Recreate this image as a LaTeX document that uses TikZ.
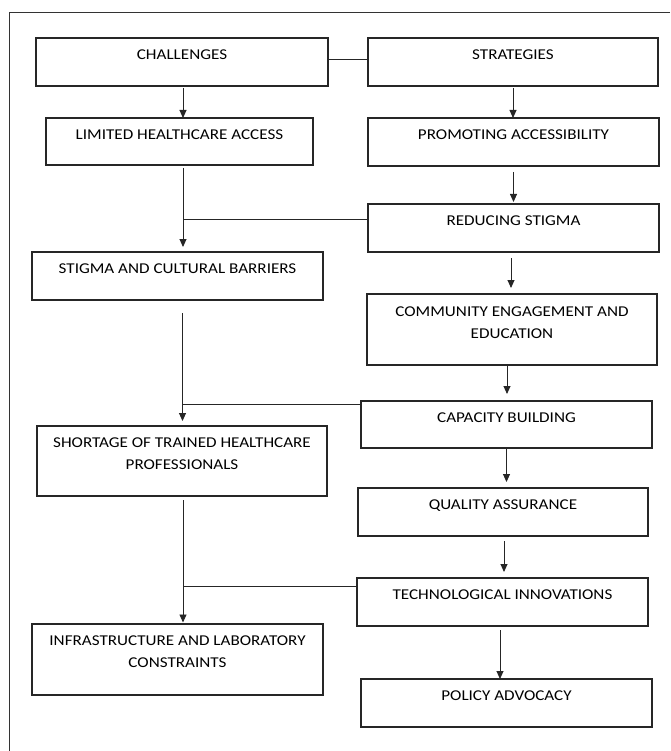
\documentclass[tikz,border=0pt]{standalone}
\usepackage{fontspec}
\setmainfont{Carlito}[FakeStretch=1.14]
\usetikzlibrary{arrows.meta}
\newcommand\twoline[2]{\parbox[t]{285pt}{\centering #1\\#2}}
\begin{document}
\begin{tikzpicture}[x=1pt,y=-1pt,
  bx/.style={draw=black!85, line width=1.3pt, inner sep=0pt, outer sep=0pt, anchor=north west},
  txt/.style={anchor=base, inner sep=0pt, font=\fontsize{15}{21.7}\selectfont, text=black},
  ln/.style={draw=black!85, line width=0.9pt},
  arr/.style={ln, -{Triangle[length=8pt,width=7pt]}},
  frame/.style={draw=black!80, line width=1.5pt}]
\useasboundingbox (0,0) rectangle (670,751);
% outer frame (top and left edges visible)
\draw[frame] (670,12.7) -- (9.3,12.7) -- (9.3,751);

% boxes
\node[bx, minimum width=292pt, minimum height=48pt] (chal)  at (36,38)  {};
\node[bx, minimum width=290pt, minimum height=48pt] (strat) at (368,38) {};
\node[bx, minimum width=267pt, minimum height=47pt] (lim)   at (46,118) {};
\node[bx, minimum width=291pt, minimum height=48pt] (prom)  at (368,118) {};
\node[bx, minimum width=291pt, minimum height=48pt] (red)   at (368,204) {};
\node[bx, minimum width=291pt, minimum height=48pt] (stig)  at (32,252) {};
\node[bx, minimum width=290pt, minimum height=71pt] (comm)  at (367,294) {};
\node[bx, minimum width=291pt, minimum height=47pt] (cap)   at (361,401) {};
\node[bx, minimum width=290pt, minimum height=70pt] (short) at (37,426) {};
\node[bx, minimum width=290pt, minimum height=48pt] (qual)  at (358,488) {};
\node[bx, minimum width=291pt, minimum height=48pt] (tech)  at (357,578) {};
\node[bx, minimum width=291pt, minimum height=71pt] (infra) at (32,624) {};
\node[bx, minimum width=291pt, minimum height=48pt] (pol)   at (361,679) {};

% texts
\node[txt] (tchal)  at ([yshift=-21.5pt]chal.north)  {CHALLENGES};
\node[txt] (tstrat) at ([yshift=-21.5pt]strat.north) {STRATEGIES};
\node[txt] (tlim)   at ([yshift=-21.5pt]lim.north)   {LIMITED HEALTHCARE ACCESS};
\node[txt] (tprom)  at ([yshift=-21.5pt]prom.north)  {PROMOTING ACCESSIBILITY};
\node[txt] (tred)   at ([yshift=-21.5pt]red.north)   {REDUCING STIGMA};
\node[txt] (tstig)  at ([yshift=-21.5pt]stig.north)  {STIGMA AND CULTURAL BARRIERS};
\node[txt] (tcomm)  at ([yshift=-22.5pt]comm.north)  {\twoline{COMMUNITY ENGAGEMENT AND}{EDUCATION}};
\node[txt] (tcap)   at ([yshift=-21.5pt]cap.north)   {CAPACITY BUILDING};
\node[txt] (tshort) at ([yshift=-21.5pt]short.north) {\twoline{SHORTAGE OF TRAINED HEALTHCARE}{PROFESSIONALS}};
\node[txt] (tqual)  at ([yshift=-21.5pt]qual.north)  {QUALITY ASSURANCE};
\node[txt] (ttech)  at ([yshift=-21.5pt]tech.north)  {TECHNOLOGICAL INNOVATIONS};
\node[txt] (tinfra) at ([yshift=-21.5pt]infra.north) {\twoline{INFRASTRUCTURE AND LABORATORY}{CONSTRAINTS}};
\node[txt] (tpol)   at ([yshift=-21.5pt]pol.north)   {POLICY ADVOCACY};

% header link
\draw[ln] ([yshift=-21pt]chal.north east) -- ([yshift=-21pt]strat.north west);

% right column arrows
\coordinate (s2) at ([yshift=-2pt]strat.south);
\draw[arr] (s2) -- (s2 |- prom.north);
\coordinate (s3) at ([yshift=-6pt]prom.south);
\draw[arr] (s3) -- ([yshift=2pt]s3 |- red.north);
\coordinate (s4) at ([xshift=-2.5pt,yshift=-6pt]red.south);
\draw[arr] (s4) -- ([yshift=6pt]s4 |- comm.north);
\coordinate (s5) at ([xshift=-5pt]comm.south);
\draw[arr] (s5) -- ([yshift=7pt]s5 |- cap.north);
\coordinate (s6) at (cap.south);
\draw[arr] (s6) -- ([yshift=6pt]s6 |- qual.north);
\coordinate (s7) at ([xshift=1pt,yshift=-5pt]qual.south);
\draw[arr] (s7) -- ([yshift=6pt]s7 |- tech.north);
\coordinate (s8) at ([xshift=-2.5pt,yshift=-4pt]tech.south);
\draw[arr] (s8) -- (s8 |- pol.north);

% left column arrows
\coordinate (c1) at ([xshift=1pt,yshift=-2pt]chal.south);
\draw[arr] (c1) -- (c1 |- lim.north);
\coordinate (c2) at ([xshift=3.5pt,yshift=-3pt]lim.south);
\draw[arr] (c2) -- ([yshift=5pt]c2 |- stig.north);
\coordinate (c3) at ([xshift=5pt,yshift=-13pt]stig.south);
\draw[arr] (c3) -- ([yshift=5pt]c3 |- short.north);
\coordinate (c4) at ([xshift=1pt,yshift=-4pt]short.south);
\draw[arr] (c4) -- ([yshift=1.5pt]c4 |- infra.north);

% cross links from strategies to the challenge flow
\coordinate (j1) at ([yshift=-15pt]red.north west);
\draw[ln] (j1) -- (j1 -| c2);
\coordinate (j2) at ([yshift=-3.5pt]cap.north west);
\draw[ln] (j2) -- (j2 -| c3);
\coordinate (j3) at ([yshift=-8.5pt]tech.north west);
\draw[ln] (j3) -- (j3 -| c4);
\end{tikzpicture}
\end{document}
